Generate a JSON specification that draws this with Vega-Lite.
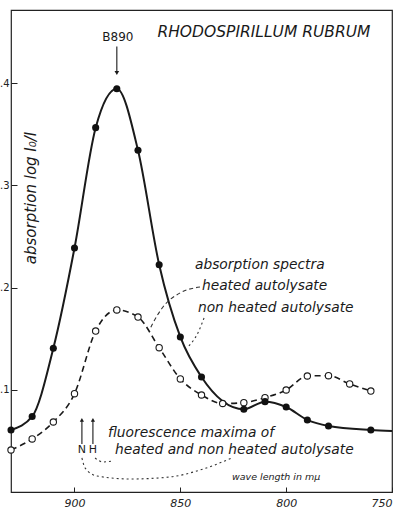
{
  "$schema": "https://vega.github.io/schema/vega-lite/v6.json",
  "width": 381,
  "height": 482,
  "autosize": {"type": "none"},
  "padding": {"left": 11, "top": 10, "right": 8, "bottom": 17},
  "background": "white",
  "config": {
    "font": "DejaVu Sans",
    "view": {"stroke": "#222", "strokeWidth": 1.2},
    "axis": {"grid": false, "domain": false, "tickColor": "#222", "labelColor": "#222", "labelFont": "DejaVu Sans"}
  },
  "datasets": {
    "spectra": [
      {"wl": 930, "a": 0.0607, "sample": "non heated autolysate", "measured": true},
      {"wl": 920, "a": 0.0739, "sample": "non heated autolysate", "measured": true},
      {"wl": 910, "a": 0.1406, "sample": "non heated autolysate", "measured": true},
      {"wl": 900, "a": 0.2387, "sample": "non heated autolysate", "measured": true},
      {"wl": 890, "a": 0.3565, "sample": "non heated autolysate", "measured": true},
      {"wl": 880, "a": 0.3946, "sample": "non heated autolysate", "measured": true},
      {"wl": 870, "a": 0.3343, "sample": "non heated autolysate", "measured": true},
      {"wl": 860, "a": 0.2224, "sample": "non heated autolysate", "measured": true},
      {"wl": 850, "a": 0.1517, "sample": "non heated autolysate", "measured": true},
      {"wl": 840, "a": 0.1125, "sample": "non heated autolysate", "measured": true},
      {"wl": 820, "a": 0.0809, "sample": "non heated autolysate", "measured": true},
      {"wl": 810, "a": 0.0884, "sample": "non heated autolysate", "measured": true},
      {"wl": 800, "a": 0.0832, "sample": "non heated autolysate", "measured": true},
      {"wl": 790, "a": 0.0705, "sample": "non heated autolysate", "measured": true},
      {"wl": 780, "a": 0.0646, "sample": "non heated autolysate", "measured": true},
      {"wl": 760, "a": 0.0607, "sample": "non heated autolysate", "measured": true},
      {"wl": 750, "a": 0.0597, "sample": "non heated autolysate", "measured": false},
      {"wl": 930, "a": 0.0411, "sample": "heated autolysate", "measured": true},
      {"wl": 920, "a": 0.0519, "sample": "heated autolysate", "measured": true},
      {"wl": 910, "a": 0.0685, "sample": "heated autolysate", "measured": true},
      {"wl": 900, "a": 0.0962, "sample": "heated autolysate", "measured": true},
      {"wl": 890, "a": 0.1575, "sample": "heated autolysate", "measured": true},
      {"wl": 880, "a": 0.1781, "sample": "heated autolysate", "measured": true},
      {"wl": 870, "a": 0.1712, "sample": "heated autolysate", "measured": true},
      {"wl": 860, "a": 0.1412, "sample": "heated autolysate", "measured": true},
      {"wl": 850, "a": 0.1106, "sample": "heated autolysate", "measured": true},
      {"wl": 840, "a": 0.0949, "sample": "heated autolysate", "measured": true},
      {"wl": 830, "a": 0.0866, "sample": "heated autolysate", "measured": true},
      {"wl": 820, "a": 0.0874, "sample": "heated autolysate", "measured": true},
      {"wl": 810, "a": 0.0923, "sample": "heated autolysate", "measured": true},
      {"wl": 800, "a": 0.0998, "sample": "heated autolysate", "measured": true},
      {"wl": 790, "a": 0.1135, "sample": "heated autolysate", "measured": true},
      {"wl": 780, "a": 0.1138, "sample": "heated autolysate", "measured": true},
      {"wl": 770, "a": 0.1057, "sample": "heated autolysate", "measured": true},
      {"wl": 760, "a": 0.0988, "sample": "heated autolysate", "measured": true}
    ],
    "leaders": [
      {"id": "heated", "o": 1, "wl": 840.7, "a": 0.2006},
      {"id": "heated", "o": 2, "wl": 850.2, "a": 0.1947},
      {"id": "heated", "o": 3, "wl": 858.2, "a": 0.181},
      {"id": "heated", "o": 4, "wl": 862.9, "a": 0.1654},
      {"id": "heated", "o": 5, "wl": 864.3, "a": 0.1595},
      {"id": "nonheated", "o": 1, "wl": 838.8, "a": 0.1703},
      {"id": "nonheated", "o": 2, "wl": 841.7, "a": 0.1556},
      {"id": "nonheated", "o": 3, "wl": 846.4, "a": 0.1419},
      {"id": "N", "o": 1, "wl": 896.5, "a": 0.0333},
      {"id": "N", "o": 2, "wl": 895.0, "a": 0.0235},
      {"id": "N", "o": 3, "wl": 889.4, "a": 0.0157},
      {"id": "N", "o": 4, "wl": 873.8, "a": 0.0127},
      {"id": "N", "o": 5, "wl": 854.9, "a": 0.0147},
      {"id": "N", "o": 6, "wl": 840.7, "a": 0.0215},
      {"id": "N", "o": 7, "wl": 825.6, "a": 0.0333},
      {"id": "H", "o": 1, "wl": 890.3, "a": 0.0333},
      {"id": "H", "o": 2, "wl": 886.5, "a": 0.0294},
      {"id": "H", "o": 3, "wl": 882.3, "a": 0.0303}
    ],
    "arrows": [
      {"name": "B890", "dir": "down", "wl": 880, "a": 0.436, "a2": 0.41},
      {"name": "N", "dir": "up", "wl": 896.5, "a": 0.047, "a2": 0.0705},
      {"name": "H", "dir": "up", "wl": 891.3, "a": 0.047, "a2": 0.0705}
    ]
  },
  "layer": [
    {
      "data": {"name": "spectra"},
      "transform": [{"filter": "datum.sample === 'non heated autolysate'"}],
      "mark": {"type": "line", "interpolate": "monotone", "color": "#1a1a1a", "strokeWidth": 2},
      "encoding": {
        "x": {"field": "wl", "type": "quantitative", "scale": {"domain": [930, 750], "nice": false, "zero": false},
          "axis": {"title": null, "values": [900, 850, 800, 750], "tickSize": -5, "labelPadding": 10, "labelFontSize": 11, "labelFontStyle": "italic"}},
        "y": {"field": "a", "type": "quantitative", "scale": {"domain": [0, 0.4716], "nice": false},
          "axis": {"title": null, "values": [0.1, 0.2, 0.3, 0.4], "format": ".1f", "tickSize": -6, "labelPadding": 8, "labelFontSize": 10}}
      }
    },
    {
      "data": {"name": "spectra"},
      "transform": [{"filter": "datum.sample === 'heated autolysate'"}],
      "mark": {"type": "line", "interpolate": "monotone", "color": "#1a1a1a", "strokeWidth": 1.6, "strokeDash": [6, 4]},
      "encoding": {
        "x": {"field": "wl", "type": "quantitative"},
        "y": {"field": "a", "type": "quantitative"}
      }
    },
    {
      "data": {"name": "spectra"},
      "transform": [{"filter": "datum.sample === 'heated autolysate'"}],
      "mark": {"type": "point", "shape": "circle", "filled": true, "fill": "white", "stroke": "#1a1a1a", "strokeWidth": 1.1, "size": 40, "opacity": 1},
      "encoding": {
        "x": {"field": "wl", "type": "quantitative"},
        "y": {"field": "a", "type": "quantitative"}
      }
    },
    {
      "data": {"name": "spectra"},
      "transform": [{"filter": "datum.sample === 'non heated autolysate' && datum.measured"}],
      "mark": {"type": "point", "shape": "circle", "filled": true, "color": "#111", "size": 50, "opacity": 1},
      "encoding": {
        "x": {"field": "wl", "type": "quantitative"},
        "y": {"field": "a", "type": "quantitative"}
      }
    },
    {
      "data": {"name": "leaders"},
      "transform": [{"filter": "datum.id === 'heated'"}],
      "mark": {"type": "line", "interpolate": "monotone", "color": "#333", "strokeWidth": 1.1, "strokeDash": [4, 3]},
      "encoding": {
        "x": {"field": "wl", "type": "quantitative"},
        "y": {"field": "a", "type": "quantitative"},
        "order": {"field": "o"}
      }
    },
    {
      "data": {"name": "leaders"},
      "transform": [{"filter": "datum.id !== 'heated'"}],
      "mark": {"type": "line", "interpolate": "monotone", "color": "#333", "strokeWidth": 1.1, "strokeDash": [2, 3]},
      "encoding": {
        "x": {"field": "wl", "type": "quantitative"},
        "y": {"field": "a", "type": "quantitative"},
        "detail": {"field": "id"},
        "order": {"field": "o"}
      }
    },
    {
      "data": {"name": "arrows"},
      "mark": {"type": "rule", "color": "#1a1a1a", "strokeWidth": 1.1},
      "encoding": {
        "x": {"field": "wl", "type": "quantitative"},
        "y": {"field": "a", "type": "quantitative"},
        "y2": {"field": "a2"}
      }
    },
    {
      "data": {"name": "arrows"},
      "transform": [{"filter": "datum.dir === 'down'"}],
      "mark": {"type": "point", "shape": "triangle-down", "filled": true, "color": "#1a1a1a", "size": 22, "opacity": 1},
      "encoding": {
        "x": {"field": "wl", "type": "quantitative"},
        "y": {"field": "a2", "type": "quantitative"}
      }
    },
    {
      "data": {"name": "arrows"},
      "transform": [{"filter": "datum.dir === 'up'"}],
      "mark": {"type": "point", "shape": "triangle-up", "filled": true, "color": "#1a1a1a", "size": 18, "opacity": 1},
      "encoding": {
        "x": {"field": "wl", "type": "quantitative"},
        "y": {"field": "a2", "type": "quantitative"}
      }
    },
    {
      "data": {"values": [{"wl": 810.5, "a": 0.450, "text": "RHODOSPIRILLUM RUBRUM"}]},
      "mark": {"type": "text", "fontSize": 15.5, "fontStyle": "italic", "color": "#1a1a1a", "align": "center", "baseline": "middle"},
      "encoding": {
        "x": {"field": "wl", "type": "quantitative"},
        "y": {"field": "a", "type": "quantitative"},
        "text": {"field": "text"}
      }
    },
    {
      "data": {"values": [{"wl": 879.5, "a": 0.445, "text": "B890"}]},
      "mark": {"type": "text", "fontSize": 12, "color": "#1a1a1a", "align": "center", "baseline": "middle"},
      "encoding": {
        "x": {"field": "wl", "type": "quantitative"},
        "y": {"field": "a", "type": "quantitative"},
        "text": {"field": "text"}
      }
    },
    {
      "data": {"values": [{"wl": 920.6, "a": 0.2877, "text": "absorption log I₀/I"}]},
      "mark": {"type": "text", "fontSize": 15, "fontStyle": "italic", "angle": 270, "color": "#1a1a1a", "align": "center", "baseline": "middle"},
      "encoding": {
        "x": {"field": "wl", "type": "quantitative"},
        "y": {"field": "a", "type": "quantitative"},
        "text": {"field": "text"}
      }
    },
    {
      "data": {"values": [
        {"wl": 843.1, "a": 0.2221, "text": "absorption spectra"},
        {"wl": 839.8, "a": 0.2016, "text": "heated autolysate"},
        {"wl": 841.7, "a": 0.180, "text": "non heated autolysate"},
        {"wl": 884.2, "a": 0.0577, "text": "fluorescence maxima of"},
        {"wl": 880.9, "a": 0.0411, "text": "heated and non heated autolysate"}
      ]},
      "mark": {"type": "text", "fontSize": 13.8, "fontStyle": "italic", "color": "#1a1a1a", "align": "left", "baseline": "middle"},
      "encoding": {
        "x": {"field": "wl", "type": "quantitative"},
        "y": {"field": "a", "type": "quantitative"},
        "text": {"field": "text"}
      }
    },
    {
      "data": {"values": [{"wl": 825.6, "a": 0.0147, "text": "wave length in mμ"}]},
      "mark": {"type": "text", "fontSize": 9.5, "fontStyle": "italic", "color": "#1a1a1a", "align": "left", "baseline": "middle"},
      "encoding": {
        "x": {"field": "wl", "type": "quantitative"},
        "y": {"field": "a", "type": "quantitative"},
        "text": {"field": "text"}
      }
    },
    {
      "data": {"values": [{"wl": 896.5, "a": 0.0411, "text": "N"}, {"wl": 891.3, "a": 0.0411, "text": "H"}]},
      "mark": {"type": "text", "fontSize": 11, "color": "#1a1a1a", "align": "center", "baseline": "middle"},
      "encoding": {
        "x": {"field": "wl", "type": "quantitative"},
        "y": {"field": "a", "type": "quantitative"},
        "text": {"field": "text"}
      }
    }
  ]
}
